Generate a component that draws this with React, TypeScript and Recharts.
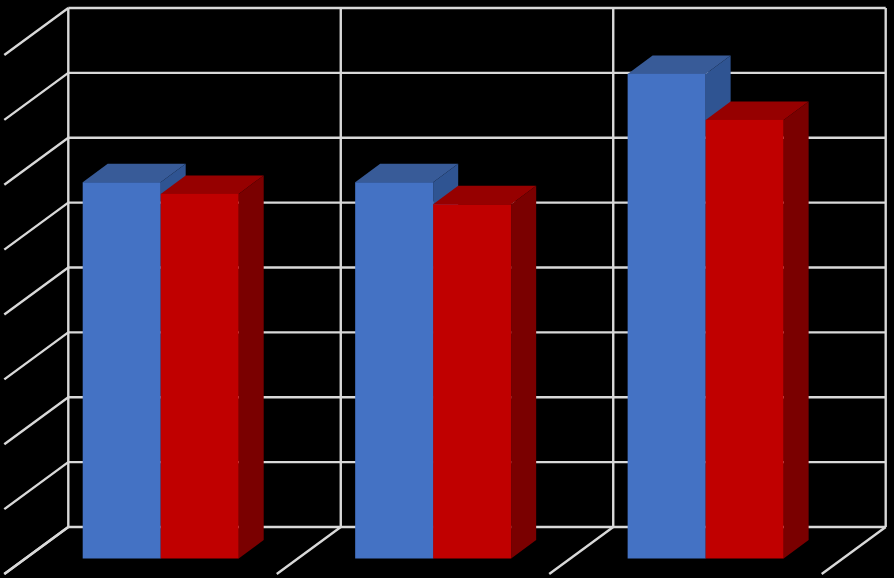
import React from "react";
import { Bar, BarChart, CartesianGrid, XAxis, YAxis } from "recharts";

const categories = ["A", "B", "C"];
const blueValues = [5.8, 5.8, 7.47];
const redValues = [5.62, 5.46, 6.76];
const yTicks = [0, 1, 2, 3, 4, 5, 6, 7, 8];

const data = categories.map((name, i) => ({
  name,
  blue: blueValues[i],
  red: redValues[i],
}));

const GRID = "#d9d9d9";
const LINE_WIDTH = 2.4;
const FRONT_X = -43.6;
const FRONT_Y = 31.5;
const DEPTH_X = 25;
const DEPTH_Y = 18.5;
const PLOT_WIDTH = 817.4;
const BAND = PLOT_WIDTH / categories.length;

const Box3D = (props: any) => {
  const { x, y, width, height, face, top, side } = props;
  const left = x + FRONT_X;
  const right = left + width;
  const upper = y + FRONT_Y;
  const lower = upper + height;
  return (
    <g>
      <polygon
        points={`${left},${upper} ${left + DEPTH_X},${upper - DEPTH_Y} ${right + DEPTH_X},${upper - DEPTH_Y} ${right},${upper}`}
        fill={top}
      />
      <polygon
        points={`${right},${upper} ${right + DEPTH_X},${upper - DEPTH_Y} ${right + DEPTH_X},${lower - DEPTH_Y} ${right},${lower}`}
        fill={side}
      />
      <rect x={left} y={upper} width={width} height={height} fill={face} />
    </g>
  );
};

const Diagonal = ({ x, y }: any) => (
  <line x1={x} y1={y} x2={x - 64} y2={y + 47} stroke={GRID} strokeWidth={LINE_WIDTH} />
);

// floor lines sit on the band edges, the last band also closes the right side
const FloorTick = ({ x, y, index }: any) => (
  <g>
    <Diagonal x={x - BAND / 2} y={y} />
    {index === categories.length - 1 && <Diagonal x={x + BAND / 2} y={y} />}
  </g>
);

const bandEdges = ({ offset }: any) =>
  [0, 1, 2, 3].map((i) => offset.left + (i * offset.width) / categories.length);

export default function App() {
  return (
    <div style={{ position: "fixed", left: 0, top: 0, width: 894, height: 578, background: "#000" }}>
      <BarChart
        width={894}
        height={578}
        data={data}
        margin={{ top: 8, right: 8.3, bottom: 50, left: 67.3 }}
        barSize={78}
        barGap={0}
      >
        <CartesianGrid verticalCoordinatesGenerator={bandEdges} stroke={GRID} strokeWidth={LINE_WIDTH} />
        <XAxis
          dataKey="name"
          interval={0}
          height={1}
          axisLine={false}
          tickLine={false}
          tickSize={0}
          tickMargin={0}
          tick={<FloorTick />}
        />
        <YAxis
          domain={[0, 8]}
          ticks={yTicks}
          interval={0}
          width={1}
          axisLine={false}
          tickLine={false}
          tickSize={0}
          tickMargin={0}
          tick={<Diagonal />}
        />
        <Bar
          dataKey="blue"
          isAnimationActive={false}
          shape={(p: any) => <Box3D {...p} face="#4472c4" top="#385b98" side="#2f5492" />}
        />
        <Bar
          dataKey="red"
          isAnimationActive={false}
          shape={(p: any) => <Box3D {...p} face="#c00000" top="#960000" side="#7a0000" />}
        />
      </BarChart>
    </div>
  );
}
